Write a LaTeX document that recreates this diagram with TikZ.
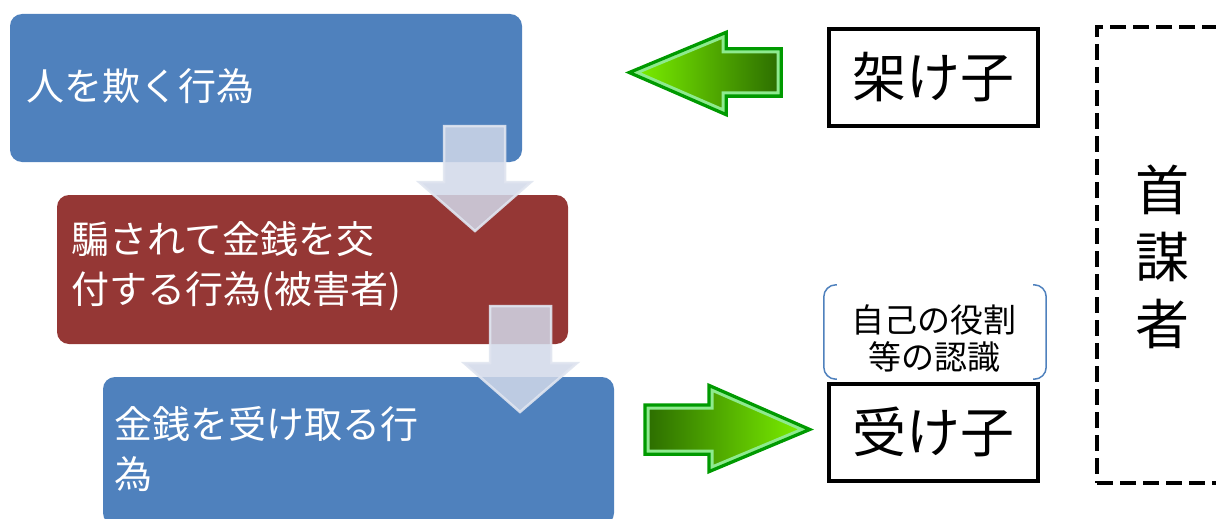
\documentclass[tikz,border=0pt]{standalone}
\usepackage{fontspec}
\setmainfont{Noto Sans CJK JP}
\usetikzlibrary{calc}
\definecolor{boxblue}{HTML}{4F81BD}
\definecolor{boxred}{HTML}{953735}
\definecolor{arrowfill}{HTML}{D1D8E9}
\definecolor{arrowedge}{HTML}{E0E5F0}
\definecolor{gdark}{HTML}{009A00}
\definecolor{glight}{HTML}{8EEA8E}
\definecolor{gtip}{HTML}{80F800}
\definecolor{gtail}{HTML}{2A6A00}
\definecolor{bracketblue}{HTML}{4F81BD}
\begin{document}
\begin{tikzpicture}[x=1pt,y=-1pt,
  stage/.style={rectangle, rounded corners=12pt, inner sep=0pt, minimum width=512pt, minimum height=148pt},
  stagetext/.style={text=white, anchor=west, align=left, inner sep=0pt, font=\fontsize{38}{50}\selectfont},
  downarrow/.style={fill=arrowfill, fill opacity=0.85, draw=arrowedge, draw opacity=0.9, line width=2.5pt, line join=miter},
  rolebox/.style={rectangle, draw=black, line width=4pt, minimum width=209pt, minimum height=97pt, inner sep=0pt, font=\fontsize{54}{60}\selectfont},
  bossframe/.style={rectangle, draw=black, line width=4pt, dash pattern=on 16pt off 7pt, minimum width=143pt, minimum height=456pt, inner sep=0pt},
  bracketline/.style={draw=bracketblue, line width=1.5pt, rounded corners=12pt},
]
\useasboundingbox (0,0) rectangle (1216,519);

% stage boxes
\node[stage, fill=boxblue] (act1) at (266,88) {};
\node[stage, fill=boxred, minimum width=511pt, minimum height=149pt] (act2) at (312.5,269.5) {};
\node[stage, fill=boxblue, minimum width=511pt] (act3) at (358.5,451) {};

\node[stagetext] (act1text) at (26,86) {人を欺く行為};
\node[stagetext] (act2text) at (71,266.5) {騙されて金銭を交\\付する行為(被害者)};
\node[stagetext] (act3text) at (114,449.5) {金銭を受け取る行\\為};

% down arrows
\filldraw[downarrow] (444,126) -- (505,126) -- (505,182) -- (531,182) -- (475,231) -- (419,182) -- (444,182) -- cycle;
\filldraw[downarrow] (490,306) -- (551,306) -- (551,363) -- (577,363) -- (520,412) -- (464,363) -- (490,363) -- cycle;

% green arrows
\def\leftgreen{(627,72.5) -- (727,31) -- (727,48) -- (782,48) -- (782,97) -- (727,97) -- (727,116) -- cycle}
\def\rightgreen{(644,404) -- (708,404) -- (708,384) -- (812,429.5) -- (708,473) -- (708,455) -- (644,455) -- cycle}
\begin{scope}
  \clip \leftgreen;
  \shade[left color=gtip, right color=gtail] (627,30) rectangle (783,117);
  \draw[glight, line width=11pt] \leftgreen;
  \draw[gdark, line width=5pt] \leftgreen;
\end{scope}
\draw[gdark, line width=1.5pt] \leftgreen;
\begin{scope}
  \clip \rightgreen;
  \shade[left color=gtail, right color=gtip] (643,383) rectangle (813,474);
  \draw[glight, line width=11pt] \rightgreen;
  \draw[gdark, line width=5pt] \rightgreen;
\end{scope}
\draw[gdark, line width=1.5pt] \rightgreen;

% role boxes
\node[rolebox] (kakeko) at (933.5,77.5) {架け子};
\node[rolebox] (ukeko) at (933.5,432) {受け子};

% awareness bracket
\node[rectangle, inner sep=0pt, minimum width=222pt, minimum height=94pt] (ninshikiframe) at (935,332) {};
\draw[bracketline] ($(ninshikiframe.north west)+(13,0)$) -- (ninshikiframe.north west) -- (ninshikiframe.south west) -- ($(ninshikiframe.south west)+(13,0)$);
\draw[bracketline] ($(ninshikiframe.north east)+(-13,0)$) -- (ninshikiframe.north east) -- (ninshikiframe.south east) -- ($(ninshikiframe.south east)+(-13,0)$);
\node[inner sep=0pt, align=center, font=\fontsize{33}{37}\selectfont] (ninshiki) at (934,339) {自己の役割\\等の認識};

% mastermind
\node[bossframe] (boss) at (1168.5,255) {};
\node[inner sep=0pt, align=center, font=\fontsize{54}{67}\selectfont] (bosstext) at (1162,257) {首\\謀\\者};
\end{tikzpicture}
\end{document}
